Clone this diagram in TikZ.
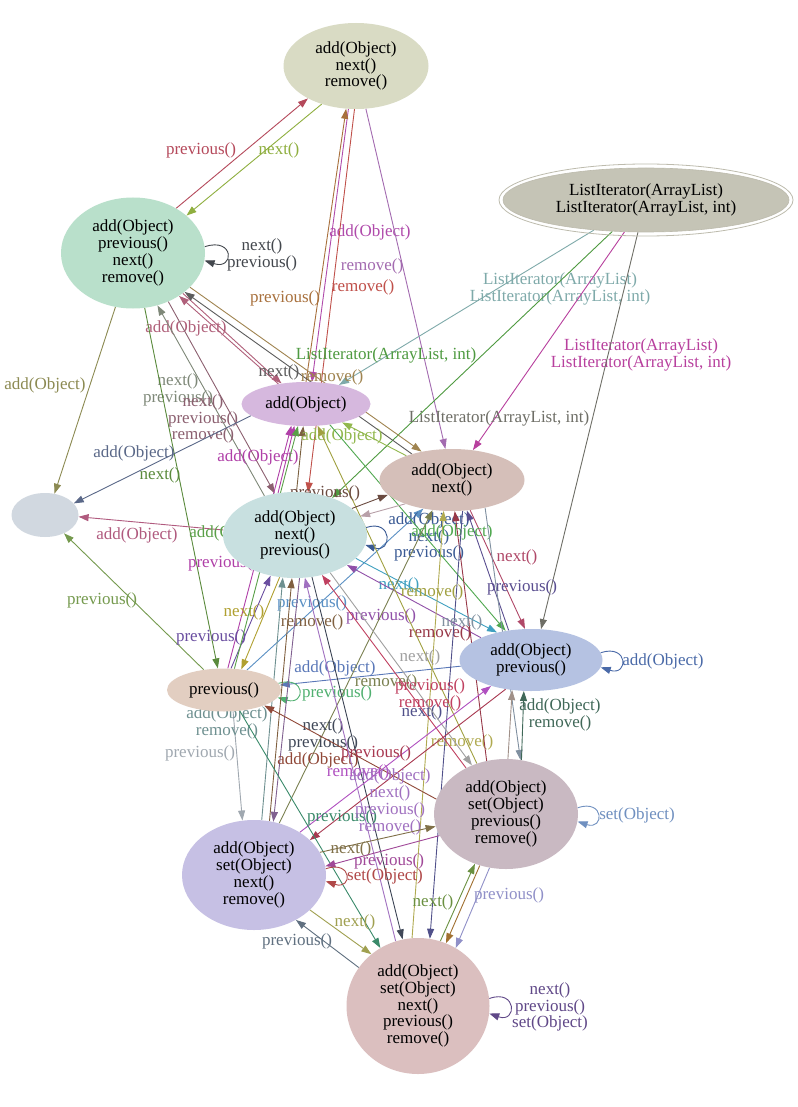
\documentclass[tikz,border=0pt]{standalone}
\usepackage{fontspec}
\setmainfont{Liberation Serif}
\usetikzlibrary{
    arrows.meta,
    backgrounds,
    shapes.geometric,
}
\definecolor{fA}{HTML}{D9DBC4}
\definecolor{fB}{HTML}{B9E0CB}
\definecolor{fInit}{HTML}{C5C4B6}
\definecolor{fRing}{HTML}{BDBBAD}
\definecolor{fC}{HTML}{D6B8DE}
\definecolor{fD}{HTML}{D5BFB9}
\definecolor{fE}{HTML}{D1D8E0}
\definecolor{fF}{HTML}{C8E0E0}
\definecolor{fG}{HTML}{B5C2E2}
\definecolor{fH}{HTML}{E2CEC1}
\definecolor{fI}{HTML}{C9B9C2}
\definecolor{fJ}{HTML}{C6C0E4}
\definecolor{fK}{HTML}{DBBFBF}
\definecolor{c1}{HTML}{B5495B}
\definecolor{c2}{HTML}{8FAF3F}
\definecolor{c3}{HTML}{43474D}
\definecolor{c4}{HTML}{B04AAB}
\definecolor{c5}{HTML}{A36BB0}
\definecolor{c6}{HTML}{C0504A}
\definecolor{c7}{HTML}{A8703C}
\definecolor{c7b}{HTML}{7A6040}
\definecolor{c8}{HTML}{7FAAAA}
\definecolor{c9}{HTML}{B8409E}
\definecolor{c10}{HTML}{4E9A40}
\definecolor{c11}{HTML}{6E6E66}
\definecolor{c12}{HTML}{8C8A52}
\definecolor{c13}{HTML}{B0607A}
\definecolor{c14}{HTML}{5C5C5C}
\definecolor{c15}{HTML}{A08450}
\definecolor{c16}{HTML}{7E8878}
\definecolor{c17}{HTML}{8C6070}
\definecolor{c18}{HTML}{5A8A3C}
\definecolor{c19}{HTML}{5A6888}
\definecolor{c20}{HTML}{B040A8}
\definecolor{c21}{HTML}{92B84E}
\definecolor{c22}{HTML}{B05A7E}
\definecolor{c23}{HTML}{759A4E}
\definecolor{c24}{HTML}{6A4EA0}
\definecolor{c25}{HTML}{B0A030}
\definecolor{c26}{HTML}{5A90C4}
\definecolor{c27}{HTML}{3A5A94}
\definecolor{c28}{HTML}{40A0C0}
\definecolor{c29}{HTML}{9050A8}
\definecolor{c30}{HTML}{4A6AA8}
\definecolor{c31}{HTML}{B04868}
\definecolor{c32}{HTML}{5A4E90}
\definecolor{c33}{HTML}{50A850}
\definecolor{c34}{HTML}{5A78B8}
\definecolor{c35}{HTML}{50B070}
\definecolor{c36}{HTML}{7A8050}
\definecolor{c37}{HTML}{B0AA50}
\definecolor{c38}{HTML}{983848}
\definecolor{c39}{HTML}{50508A}
\definecolor{c40}{HTML}{A0A040}
\definecolor{c41}{HTML}{C04060}
\definecolor{c42}{HTML}{A0A0A0}
\definecolor{c43}{HTML}{8090A0}
\definecolor{c44}{HTML}{A0A8B0}
\definecolor{c45}{HTML}{6E9090}
\definecolor{c46}{HTML}{806040}
\definecolor{c46b}{HTML}{806090}
\definecolor{c47}{HTML}{404858}
\definecolor{c48}{HTML}{904838}
\definecolor{c49}{HTML}{B050C0}
\definecolor{c50}{HTML}{A83850}
\definecolor{c51}{HTML}{3A8A6A}
\definecolor{c52}{HTML}{807048}
\definecolor{c53}{HTML}{A04898}
\definecolor{c54}{HTML}{B04848}
\definecolor{c55}{HTML}{7090C0}
\definecolor{c56}{HTML}{A0A050}
\definecolor{c57}{HTML}{607080}
\definecolor{c58}{HTML}{6A9040}
\definecolor{c59}{HTML}{9090C8}
\definecolor{c60}{HTML}{604888}
\definecolor{c61}{HTML}{406858}
\definecolor{c62}{HTML}{A09088}
\definecolor{c63}{HTML}{A07030}
\definecolor{c64}{HTML}{B8A0A8}
\definecolor{c65}{HTML}{6A4A40}
\definecolor{c66}{HTML}{5AA048}
\definecolor{c67}{HTML}{A070C0}
\tikzstyle{state}=[ellipse,inner sep=0pt,align=center,font=\fontsize{17}{16.8}\selectfont]
\tikzstyle{trans}=[-{Triangle[length=10pt,width=7pt]},line width=0.9pt]
\tikzstyle{lbl}=[align=center,inner sep=0pt,font=\fontsize{17}{16.8}\selectfont]

\begin{document}
\begin{tikzpicture}[x=1pt,y=-1pt]
    \useasboundingbox (0,0) rectangle (797,1107);
    \node[state,fill=fA,minimum width=145pt,minimum height=86pt] (n1) at (356,66) {add(Object)\\next()\\remove()};
    \node[state,fill=fB,minimum width=144pt,minimum height=111pt] (n2) at (133,253) {add(Object)\\previous()\\next()\\remove()};
    \node[state,fill=fInit,draw=fRing,line width=0.6pt,minimum width=286pt,minimum height=64pt] (init) at (646,200) {ListIterator(ArrayList)\\ListIterator(ArrayList, int)};
    \draw[fRing,line width=0.8pt] (init.center) ellipse [x radius=147pt,y radius=36pt];
    \node[state,fill=fC,minimum width=129pt,minimum height=44pt] (n4) at (306,404) {add(Object)};
    \node[state,fill=fD,minimum width=145pt,minimum height=62pt] (n5) at (452,480) {add(Object)\\next()};
    \node[state,fill=fE,minimum width=67pt,minimum height=44pt] (n6) at (45,515) {};
    \node[state,fill=fF,minimum width=144pt,minimum height=86pt] (n7) at (295,535) {add(Object)\\next()\\previous()};
    \node[state,fill=fG,minimum width=143pt,minimum height=62pt] (n8) at (531,660) {add(Object)\\previous()};
    \node[state,fill=fH,minimum width=114pt,minimum height=43pt] (n9) at (224,690) {previous()};
    \node[state,fill=fI,minimum width=144pt,minimum height=110pt] (n10) at (506,814) {add(Object)\\set(Object)\\previous()\\remove()};
    \node[state,fill=fJ,minimum width=144pt,minimum height=110pt] (n11) at (254,875) {add(Object)\\set(Object)\\next()\\remove()};
    \node[state,fill=fK,minimum width=143pt,minimum height=136pt] (n12) at (418,1006) {add(Object)\\set(Object)\\next()\\previous()\\remove()};

    \begin{scope}[on background layer]
        \fill[white] (0,0) rectangle (797,1107);
        % upper part
        \draw[trans,c1] (n2.46) -- (n1.214) node[lbl] (l1) at (201,150) {previous()};
        \draw[trans,c2] (n1.228) -- (n2.35) node[lbl] (l2) at (279,150) {next()};
        \draw[trans,c3] (n2.5) .. controls +(30,-10) and +(30,10) .. (n2.-6) node[lbl] (l3) at (262,255) {next()\\previous()};
        \draw[trans,c4] (n1.260) -- (n4.75) node[lbl] (l4) at (370,232) {add(Object)};
        \draw[trans,c5] (n1.283) -- (n5.102) node[lbl] (l5) at (372,266) {remove()};
        \draw[trans,c6] (n1.268) -- (n7.73) node[lbl] (l6) at (363,287) {remove()};
        \draw[trans,c7] (n4.90) -- (n1.257) node[lbl] (l7) at (285,298) {previous()};
        \draw[trans,c7b] (n7.88) -- (n4.263);
        \draw[trans,c8] (init.210) -- (n4.30) node[lbl] (l8) at (560,289) {ListIterator(ArrayList)\\ListIterator(ArrayList, int)};
        \draw[trans,c9] (init.236) -- (n5.55) node[lbl] (l9) at (641,355) {ListIterator(ArrayList)\\ListIterator(ArrayList, int)};
        \draw[trans,c10] (init.223) -- (n7.45) node[lbl] (l10) at (386,355) {ListIterator(ArrayList, int)};
        \draw[trans,c11] (init.256) -- (n8.72) node[lbl] (l11) at (499,418) {ListIterator(ArrayList, int)};
        \draw[trans,c12] (n2.252) -- (n6.66) node[lbl] (l12) at (45,385) {add(Object)};
        \draw[trans,c13] (n2.321) -- (n4.140) node[lbl] (l13) at (186,328) {add(Object)};
        \draw[trans,c13] (n4.144) -- (n2.317);
        \draw[trans,c14] (n5.147) -- (n2.323) node[lbl] (l14) at (279,372) {next()};
        \draw[trans,c15] (n2.329) -- (n5.137) node[lbl] (l15) at (332,377) {remove()};
        \draw[trans,c16] (n7.128) -- (n2.295) node[lbl] (l16) at (178,390) {next()\\previous()};
        \draw[trans,c17] (n2.306) -- (n7.116) node[lbl] (l17) at (203,419) {next()\\previous()\\remove()};
        \draw[trans,c18] (n2.282) -- (n9.106) node[lbl] (l18) at (160,475) {next()};
        \draw[trans,c19] (n4.192) -- (n6.22) node[lbl] (l19) at (134,453) {add(Object)};
        \draw[trans,c20] (n9.80) -- (n4.236) node[lbl] (l20) at (223,563) {previous()};
        \draw[trans,c20] (n7.112) -- (n4.242) node[lbl] (l20b) at (258,457) {add(Object)};
        \draw[trans,c21] (n5.152) -- (n4.333) node[lbl] (l21) at (342,436) {add(Object)};
        % middle part
        \draw[trans,c22] (n7.176) -- (n6.357) node[lbl] (l22) at (137,535) {add(Object)};
        \draw[trans,c23] (n9.135) -- (n6.316) node[lbl] (l23) at (102,600) {previous()};
        \draw[trans,c24] (n9.72) -- (n7.239) node[lbl] (l24) at (211,637) {previous()};
        \draw[trans,c25] (n7.250) -- (n9.50) node[lbl] (l25) at (244,612) {next()};
        \draw[trans,c26] (n9.41) -- (n5.225) node[lbl] (l26) at (312,603) {previous()};
        \draw[trans,c27] (n7.6) .. controls +(27,-9) and +(27,9) .. (n7.-8) node[lbl] (l27) at (429,537) {add(Object)\\next()\\previous()};
        \draw[trans,c28] (n7.339) -- (n8.141) node[lbl] (l28) at (399,585) {next()};
        \draw[trans,c29] (n8.156) -- (n7.330) node[lbl] (l29) at (381,616) {previous()};
        \draw[trans,c30] (n8.6) .. controls +(28,-9) and +(28,9) .. (n8.-6) node[lbl] (l30) at (663,661) {add(Object)};
        \draw[trans,c31] (n5.301) -- (n8.101) node[lbl] (l31) at (517,557) {next()};
        \draw[trans,c32] (n8.127) -- (n5.296) node[lbl] (l32) at (522,587) {previous()};
        \draw[trans,c33] (n4.319) -- (n8.131) node[lbl] (l33) at (452,532) {add(Object)};
        \draw[trans,c34] (n8.185) -- (n9.5) node[lbl] (l34) at (335,668) {add(Object)};
        \draw[trans,c35] (n9.7) .. controls +(28,-8) and +(28,8) .. (n9.-8) node[lbl] (l35) at (337,693) {previous()};
        \draw[trans,c36] (n11.64) -- (n5.237) node[lbl] (l36) at (386,682) {remove()};
        \draw[trans,c37] (n12.95) -- (n5.255) node[lbl] (l37) at (462,742) {remove()};
        \draw[trans,c38] (n10.110) -- (n5.275) node[lbl] (l38) at (440,633) {remove()};
        \draw[trans,c39] (n5.289) -- (n12.80) node[lbl] (l39) at (422,712) {next()};
        \draw[trans,c40] (n10.120) -- (n4.298) node[lbl] (l40) at (432,592) {remove()};
        \draw[trans,c41] (n10.131) -- (n7.304) node[lbl] (l41) at (430,695) {previous()\\remove()};
        \draw[trans,c42] (n7.313) -- (n10.125) node[lbl] (l42) at (420,657) {next()};
        \draw[trans,c43] (n5.320) -- (n10.75) node[lbl] (l43) at (462,622) {next()};
        \draw[trans,c64] (n5.207) -- (n7.16);
        \draw[trans,c65] (n7.25) -- (n5.193) node[lbl] (l65) at (325,493) {previous()};
        \draw[trans,c66] (n9.64) -- (n4.250) node[lbl] (l66) at (230,533) {add(Object)};
        % lower part
        \draw[trans,c44] (n9.293) -- (n11.102) node[lbl] (l44) at (200,753) {previous()};
        \draw[trans,c45] (n11.82) -- (n7.254) node[lbl] (l45) at (227,723) {add(Object)\\remove()};
        \draw[trans,c46] (n11.74) -- (n7.266) node[lbl] (l46) at (312,622) {remove()};
        \draw[trans,c46b] (n7.276) -- (n11.70);
        \draw[trans,c47] (n7.292) -- (n12.103) node[lbl] (l47) at (323,735) {next()\\previous()};
        \draw[trans,c48] (n10.168) -- (n9.339) node[lbl] (l48) at (318,760) {add(Object)};
        \draw[trans,c49] (n11.43) -- (n8.213) node[lbl] (l49) at (358,772) {remove()};
        \draw[trans,c50] (n8.229) -- (n11.32) node[lbl] (l50) at (376,753) {previous()};
        \draw[trans,c51] (n9.307) -- (n12.123) node[lbl] (l51) at (342,817) {previous()};
        \draw[trans,c67] (n12.109) -- (n7.283) node[lbl] (l67) at (390,802) {add(Object)\\next()\\previous()\\remove()};
        \draw[trans,c52] (n11.19) -- (n10.190) node[lbl] (l52) at (351,849) {next()};
        \draw[trans,c53] (n10.198) -- (n11.7) node[lbl] (l53) at (389,861) {previous()};
        \draw[trans,c54] (n11.5) .. controls +(27,-9) and +(27,9) .. (n11.-5) node[lbl] (l54) at (385,876) {set(Object)};
        \draw[trans,c55] (n10.5) .. controls +(27,-9) and +(27,9) .. (n10.-6) node[lbl] (l55) at (637,815) {set(Object)};
        \draw[trans,c56] (n11.328) -- (n12.132) node[lbl] (l56) at (355,922) {next()};
        \draw[trans,c57] (n12.147) -- (n11.313) node[lbl] (l57) at (297,941) {previous()};
        \draw[trans,c58] (n12.71) -- (n10.238) node[lbl] (l58) at (433,902) {next()};
        \draw[trans,c59] (n10.253) -- (n12.57) node[lbl] (l59) at (509,895) {previous()};
        \draw[trans,c63] (n10.243) -- (n12.66);
        \draw[trans,c60] (n12.6) .. controls +(28,-10) and +(28,10) .. (n12.-6) node[lbl] (l60) at (550,1007) {next()\\previous()\\set(Object)};
        \draw[trans,c61] (n10.74) -- (n8.257) node[lbl] (l61) at (560,715) {add(Object)\\remove()};
        \draw[trans,c62] (n10.88) -- (n8.238);
    \end{scope}
\end{tikzpicture}
\end{document}
